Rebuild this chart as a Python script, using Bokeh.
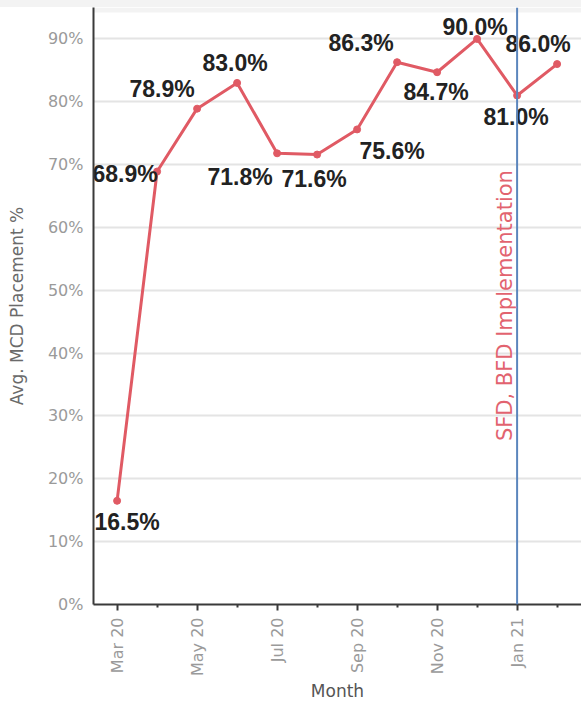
import math

from bokeh.embed import file_html
from bokeh.layouts import column
from bokeh.models import (BoxAnnotation, ColumnDataSource, Div, FixedTicker,
                          Label, PrintfTickFormatter, Range1d, Span)
from bokeh.plotting import figure
from bokeh.resources import INLINE
from bokeh.core.properties import value

# Monthly average MCD placement (%)
months = ["Mar 20", "Apr 20", "May 20", "Jun 20", "Jul 20", "Aug 20",
          "Sep 20", "Oct 20", "Nov 20", "Dec 20", "Jan 21", "Feb 21"]
placement = [16.5, 68.9, 78.9, 83.0, 71.8, 71.6, 75.6, 86.3, 84.7, 90.0, 81.0, 86.0]
y_ticks = [0, 10, 20, 30, 40, 50, 60, 70, 80, 90]
event_month = "Jan 21"
event_text = "SFD, BFD Implementation"

# screen-pixel offsets for each value label (dx right, dy down)
label_offsets = [(10, 21), (-32, 2), (-35, -20), (-2, -20), (-37, 24), (-3, 24),
                 (35, 22), (-36, -19), (-1, 20), (-2, -12), (-1, 22), (-19, -20)]

LINE = "#e05a64"
x_idx = list(range(len(months)))

src = ColumnDataSource(dict(
    x=x_idx,
    y=placement,
    txt=[f"{v:.1f}%" for v in placement],
    dx=[o[0] for o in label_offsets],
    dy=[o[1] for o in label_offsets],
))

p = figure(width=581, height=698, output_backend="svg", toolbar_location=None,
           x_range=Range1d(-0.59, 11.61), y_range=Range1d(0, 95),
           min_border_left=93, min_border_right=0, min_border_top=0,
           min_border_bottom=101)
p.outline_line_color = None
p.background_fill_color = "white"
p.border_fill_color = "white"

# faint band along the top edge
p.add_layout(BoxAnnotation(bottom=94.2, fill_color="#f3f3f3", fill_alpha=1.0,
                           line_color=None, level="underlay"))

# axes
p.xgrid.visible = False
p.ygrid.grid_line_color = "#e4e4e4"
p.ygrid.grid_line_width = 2
p.ygrid.ticker = FixedTicker(ticks=y_ticks)

p.yaxis.ticker = FixedTicker(ticks=y_ticks)
p.yaxis.formatter = PrintfTickFormatter(format="%d%%")
p.yaxis.axis_label = "Avg. MCD Placement %"
p.yaxis.axis_label_text_font = "DejaVu Sans"
p.yaxis.axis_label_text_font_style = "normal"
p.yaxis.axis_label_text_font_size = "17px"
p.yaxis.axis_label_text_color = "#6a6a6a"
p.yaxis.axis_label_standoff = 18
p.yaxis.major_tick_out = 0
p.yaxis.major_tick_in = 0
p.yaxis.minor_tick_out = 0
p.yaxis.minor_tick_in = 0
p.yaxis.major_label_standoff = 10
p.yaxis.major_label_text_font = "DejaVu Sans"
p.yaxis.major_label_text_font_size = "16px"
p.yaxis.major_label_text_color = "#9a9a9a"
p.yaxis.axis_line_color = "#3a3a3a"
p.yaxis.axis_line_width = 2

major_x = x_idx[::2]
minor_x = x_idx[1::2]
p.xaxis.ticker = FixedTicker(ticks=major_x, minor_ticks=minor_x)
p.xaxis.major_label_overrides = {i: months[i] for i in major_x}
p.xaxis.major_label_orientation = math.pi / 2
p.xaxis.axis_label = "Month"
p.xaxis.axis_label_text_font = "DejaVu Sans"
p.xaxis.axis_label_text_font_style = "normal"
p.xaxis.axis_label_text_font_size = "17px"
p.xaxis.axis_label_text_color = "#555555"
p.xaxis.axis_label_standoff = 2
p.xaxis.major_tick_out = 6
p.xaxis.major_tick_in = 0
p.xaxis.minor_tick_out = 3
p.xaxis.minor_tick_in = 0
p.xaxis.major_tick_line_color = "#3a3a3a"
p.xaxis.major_tick_line_width = 2
p.xaxis.minor_tick_line_color = "#3a3a3a"
p.xaxis.minor_tick_line_width = 2
p.xaxis.major_label_standoff = 7
p.xaxis.major_label_text_font = "DejaVu Sans"
p.xaxis.major_label_text_font_size = "16px"
p.xaxis.major_label_text_color = "#9a9a9a"
p.xaxis.axis_line_color = "#3a3a3a"
p.xaxis.axis_line_width = 2

# event marker
ev = months.index(event_month)
p.add_layout(Span(location=ev, dimension="height", line_color="#5b86bd",
                  line_width=2))
p.add_layout(Label(x=ev, y=26, text=event_text, angle=math.pi / 2,
                   x_offset=-12, text_align="left", text_baseline="alphabetic",
                   text_font="DejaVu Sans", text_font_size="21px",
                   text_color="#e2636f"))

# series
p.line("x", "y", source=src, line_color=LINE, line_width=3)
p.scatter("x", "y", source=src, size=7, fill_color=LINE, line_color=LINE)
p.text("x", "y", text="txt", source=src, x_offset="dx", y_offset="dy",
       text_align="center", text_baseline="middle",
       text_font=value("Liberation Sans"), text_font_style="bold",
       text_font_size="23px", text_color="#222222")

band = Div(width=581, height=7, margin=0,
           styles={"background-color": "#f3f3f3"})
layout = column(band, p, spacing=0)

open("out.html", "w").write(file_html(layout, INLINE))
